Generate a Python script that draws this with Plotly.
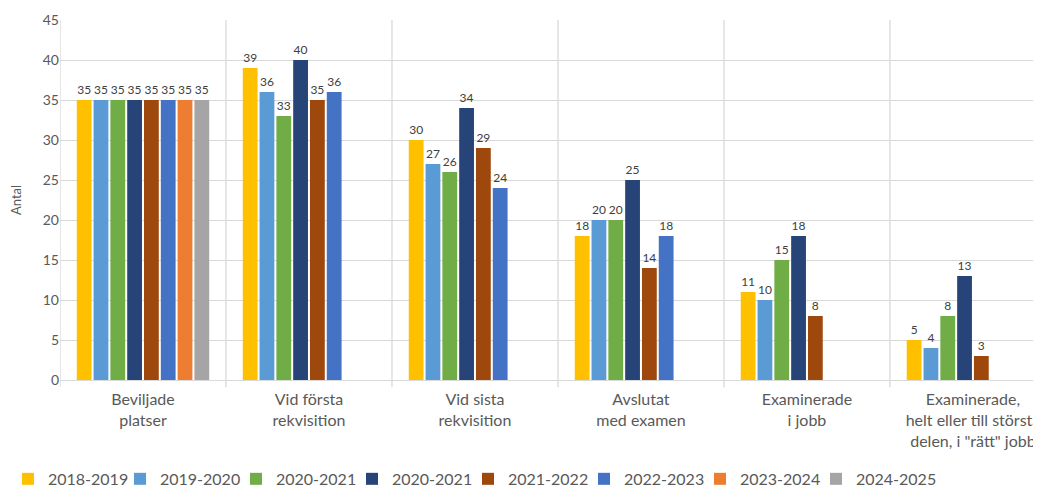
import plotly.graph_objects as go

categories = ["Beviljade<br>platser", "Vid första<br>rekvisition", "Vid sista<br>rekvisition",
              "Avslutat<br>med examen", "Examinerade<br>i jobb",
              "Examinerade,<br>helt eller till största<br>delen, i \"rätt\" jobb"]
series_names = ["2018-2019", "2019-2020", "2020-2021", "2020-2021", "2021-2022",
                "2022-2023", "2023-2024", "2024-2025"]
s_2018_2019 = [35, 39, 30, 18, 11, 5]
s_2019_2020 = [35, 36, 27, 20, 10, 4]
s_2020_2021a = [35, 33, 26, 20, 15, 8]
s_2020_2021b = [35, 40, 34, 25, 18, 13]
s_2021_2022 = [35, 35, 29, 14, 8, 3]
s_2022_2023 = [35, 36, 24, 18, None, None]
s_2023_2024 = [35, None, None, None, None, None]
s_2024_2025 = [35, None, None, None, None, None]
series_values = [s_2018_2019, s_2019_2020, s_2020_2021a, s_2020_2021b,
                 s_2021_2022, s_2022_2023, s_2023_2024, s_2024_2025]
colors = ["#FFC000", "#5B9BD5", "#70AD47", "#264478", "#9E480E", "#4472C4", "#ED7D31", "#A5A5A5"]

FONT = "Lato, 'Liberation Sans', sans-serif"
xpos = list(range(len(categories)))
W, H = 1041, 488

fig = go.Figure()
legend_layouts = {}
for i, (name, vals, col) in enumerate(zip(series_names, series_values, colors)):
    lname = "legend" if i == 0 else f"legend{i + 1}"
    fig.add_trace(go.Bar(
        x=xpos, y=vals, name=name, marker=dict(color=col, line=dict(width=0)),
        text=[None if v is None else str(v) for v in vals],
        textposition="outside", textfont=dict(size=12, color="#404040", family=FONT),
        constraintext="none", cliponaxis=False, legend=lname,
    ))
    legend_layouts[lname] = dict(
        orientation="h", xref="container", yref="container",
        x=(-4 + 116 * i) / W, y=0.035, xanchor="left", yanchor="middle",
        font=dict(size=16, color="#595959"), itemwidth=30,
        bgcolor="rgba(0,0,0,0)")

shapes = []
for b in [i - 0.5 for i in range(len(categories) + 1)]:
    shapes.append(dict(type="line", xref="x", yref="paper", x0=b, x1=b, y0=-0.02, y1=1,
                       line=dict(color="#D9D9D9", width=1.3), layer="below"))

fig.update_layout(
    width=W, height=H,
    margin=dict(l=52, r=8, t=12, b=116, autoexpand=False),
    paper_bgcolor="white", plot_bgcolor="white",
    font=dict(family=FONT, color="#595959"),
    barmode="group", bargap=0.19, bargroupgap=0.12,
    showlegend=True,
    shapes=shapes,
    xaxis=dict(range=[-0.5, 5.41], tickvals=xpos, ticktext=categories, showgrid=False,
               zeroline=False, showline=False, ticks="outside", ticklen=5, tickcolor="rgba(0,0,0,0)",
               tickfont=dict(size=16, color="#595959"), automargin=False),
    yaxis=dict(range=[0, 45], dtick=5, showgrid=True, gridcolor="#D9D9D9", gridwidth=1.3,
               zeroline=True, zerolinecolor="#D9D9D9", zerolinewidth=1.3,
               tickfont=dict(size=14, color="#595959"), automargin=False,
               title=dict(text="Antal", font=dict(size=13, color="#595959"), standoff=18)),
    **legend_layouts,
)

fig.write_html("out.html")
